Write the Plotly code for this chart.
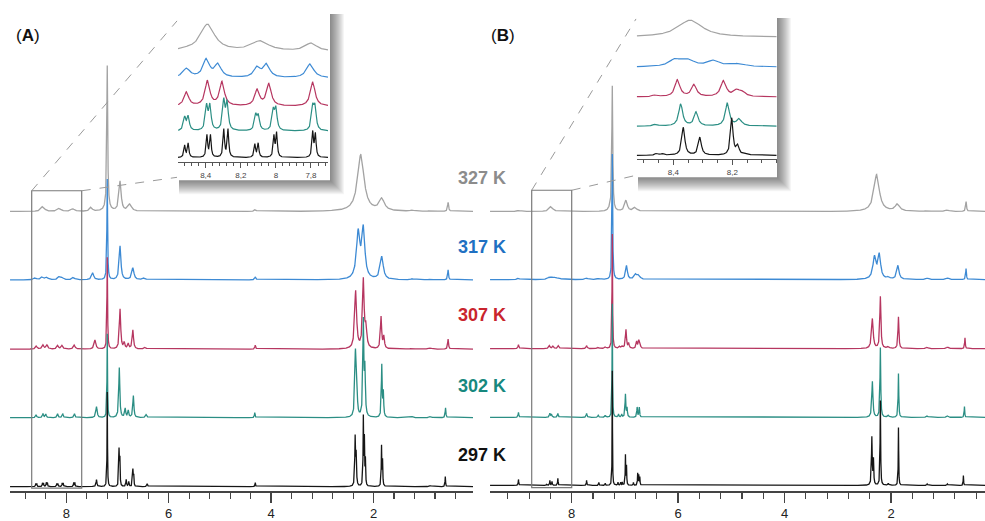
import numpy as np
import plotly.graph_objects as go

W, H = 985, 521
FONT = "Liberation Sans, Arial, sans-serif"

TEMPS = ["327 K", "317 K", "307 K", "302 K", "297 K"]
LINE_COLORS = ["#a3a3a3", "#3d8ad4", "#b63660", "#2b8e84", "#161616"]
LABEL_COLORS = ["#8c8c8c", "#1f70c2", "#c9242d", "#17887e", "#111111"]

MAIN_TICKS = [2, 4, 6, 8]
INSET_A_TICKS = [8.4, 8.2, 8.0, 7.8]
INSET_A_TEXT = ["8,4", "8,2", "8", "7,8"]
INSET_B_TICKS = [8.4, 8.2]
INSET_B_TEXT = ["8,4", "8,2"]

# ---- Panel A peaks: (ppm, height in px, half-width in ppm) ----
A_327 = [(8.46, 5, 0.04), (8.14, 3, 0.04), (7.875, 2.5, 0.04), (7.52, 4, 0.03),
         (7.20, 140, 0.010), (7.20, 6, 0.05), (6.95, 30, 0.025), (6.76, 7, 0.04),
         (4.31, 2, 0.02), (2.25, 57, 0.075), (1.84, 12, 0.06),
         (1.25, 1, 0.04), (0.89, 1, 0.04), (0.545, 9, 0.012)]
A_317 = [(8.61, 2, 0.03), (8.47, 3, 0.03), (8.38, 2.5, 0.03), (8.14, 3, 0.03), (8.08, 2, 0.03),
         (7.86, 2.5, 0.03), (7.485, 7, 0.025), (7.20, 101, 0.008), (6.95, 34, 0.02),
         (6.70, 12, 0.025), (6.48, 2, 0.03), (4.31, 3, 0.015),
         (2.30, 46, 0.04), (2.20, 49, 0.035), (1.84, 23, 0.035),
         (1.25, 1, 0.03), (0.89, 1, 0.03), (0.545, 10, 0.01)]
A_307 = [(8.586, 3, 0.02), (8.455, 4, 0.02), (8.377, 4, 0.02), (8.17, 3.5, 0.02), (8.084, 3.5, 0.02),
         (7.844, 4, 0.02), (7.44, 9, 0.02), (7.20, 92, 0.007), (6.95, 40, 0.015), (6.87, 6, 0.015),
         (6.79, 5, 0.015), (6.70, 19, 0.015), (6.46, 2, 0.02), (4.31, 4, 0.01),
         (2.35, 58, 0.022), (2.20, 68, 0.018), (2.15, 20, 0.02), (1.854, 32, 0.014), (1.80, 12, 0.015),
         (1.25, 1, 0.03), (0.89, 1.2, 0.03), (0.545, 10, 0.01)]
A_302 = [(8.59, 3, 0.012), (8.455, 4, 0.012), (8.40, 3.5, 0.012), (8.17, 4, 0.012), (8.07, 4, 0.012),
         (7.84, 4, 0.012), (7.41, 11, 0.015), (7.20, 84, 0.006), (6.965, 50, 0.012), (6.85, 9, 0.012),
         (6.79, 7, 0.012), (6.69, 22, 0.012), (6.44, 3, 0.015), (4.32, 5, 0.008),
         (2.355, 62, 0.013), (2.33, 35, 0.012), (2.20, 95, 0.011), (2.17, 45, 0.011),
         (1.84, 52, 0.009), (1.81, 24, 0.009), (1.25, 1, 0.02), (0.89, 1.5, 0.02), (0.595, 10, 0.008)]
A_297 = [(8.595, 3, 0.006), (8.575, 3, 0.006), (8.465, 3.5, 0.006), (8.445, 3.5, 0.006),
         (8.39, 4, 0.006), (8.37, 4, 0.006), (8.185, 3, 0.006), (8.165, 3, 0.006),
         (8.08, 3.5, 0.006), (8.06, 3.5, 0.006), (7.855, 4, 0.006), (7.835, 4, 0.006),
         (7.41, 7, 0.01), (7.20, 95, 0.005), (6.97, 35, 0.006), (6.955, 30, 0.006),
         (6.83, 7, 0.008), (6.78, 5, 0.008), (6.70, 16, 0.006), (6.685, 14, 0.006), (6.42, 3, 0.01),
         (4.31, 4, 0.006), (2.36, 48, 0.008), (2.34, 30, 0.008), (2.20, 68, 0.006), (2.18, 45, 0.006),
         (2.16, 25, 0.006), (1.845, 40, 0.006), (1.825, 25, 0.006), (0.89, 1, 0.02), (0.60, 10, 0.006)]

# ---- Panel B peaks ----
B_327 = [(9.0, 1, 0.03), (8.39, 5, 0.04), (7.28, 3, 0.03), (7.237, 125, 0.01), (6.98, 11, 0.03),
         (6.81, 4, 0.04), (2.27, 37, 0.06), (1.88, 7, 0.05), (1.32, 1, 0.04), (0.94, 1.5, 0.04),
         (0.59, 10, 0.01)]
B_317 = [(9.0, 1.5, 0.02), (8.42, 2, 0.04), (8.34, 2, 0.04), (8.25, 1.5, 0.04), (7.72, 1.5, 0.03),
         (7.5, 1, 0.03), (7.237, 126, 0.008), (6.97, 14, 0.02), (6.80, 5, 0.03), (6.74, 4, 0.03),
         (2.31, 22, 0.035), (2.22, 24, 0.03), (2.05, 2, 0.03), (1.87, 14, 0.025),
         (1.32, 1.5, 0.03), (0.94, 1.5, 0.03), (0.59, 11, 0.008)]
B_307 = [(9.0, 4, 0.01), (8.42, 3, 0.015), (8.35, 2.5, 0.015), (8.25, 3, 0.015), (7.72, 3, 0.012),
         (7.5, 1.5, 0.015), (7.37, 1.5, 0.015), (7.237, 115, 0.006), (7.10, 2, 0.015), (7.05, 2, 0.015),
         (6.98, 19, 0.012), (6.93, 5, 0.012), (6.78, 7, 0.012), (6.74, 7, 0.012), (6.72, 5, 0.012),
         (2.35, 30, 0.018), (2.20, 52, 0.012), (2.05, 2, 0.02), (1.86, 32, 0.01),
         (1.32, 1.5, 0.02), (0.94, 1.5, 0.02), (0.61, 11, 0.007)]
B_302 = [(9.0, 5, 0.008), (8.41, 4, 0.01), (8.38, 3, 0.01), (8.26, 4, 0.01), (7.72, 4, 0.01),
         (7.5, 2, 0.01), (7.37, 2, 0.01), (7.237, 114, 0.005), (7.12, 3, 0.008), (7.06, 3, 0.008),
         (6.99, 23, 0.008), (6.96, 9, 0.008), (6.77, 10, 0.008), (6.73, 10, 0.008),
         (2.35, 36, 0.012), (2.20, 70, 0.008), (2.05, 2, 0.015), (1.86, 44, 0.007),
         (1.32, 1.5, 0.015), (0.94, 1.5, 0.015), (0.62, 11, 0.006)]
B_297 = [(9.0, 6, 0.006), (8.47, 1, 0.008), (8.41, 5, 0.006), (8.37, 4, 0.006), (8.26, 7, 0.006),
         (7.72, 5, 0.006), (7.49, 3, 0.006), (7.37, 2, 0.006), (7.237, 115, 0.004), (7.13, 3, 0.006),
         (7.08, 3, 0.006), (7.05, 3, 0.006), (6.99, 30, 0.005), (6.97, 19, 0.005), (6.84, 3, 0.006),
         (6.76, 12, 0.005), (6.74, 10, 0.005), (6.72, 8, 0.005),
         (2.36, 48, 0.008), (2.33, 25, 0.007), (2.20, 85, 0.006), (2.05, 2, 0.01), (1.86, 58, 0.005),
         (1.32, 1.5, 0.01), (0.94, 1.5, 0.01), (0.64, 10, 0.005)]

# ---- Inset A peaks (inset px heights) ----
IA_327 = [(8.52, 1, 0.04), (8.39, 27, 0.05), (8.09, 10, 0.06), (7.80, 8, 0.04)]
IA_317 = [(8.51, 9, 0.025), (8.397, 18, 0.022), (8.33, 13, 0.022), (8.107, 10, 0.022),
          (8.053, 13, 0.022), (7.805, 14, 0.025)]
IA_307 = [(8.51, 14, 0.016), (8.39, 25, 0.016), (8.307, 24, 0.016), (8.107, 16, 0.016),
          (8.04, 22, 0.016), (7.79, 24, 0.016)]
IA_302 = [(8.52, 13, 0.008), (8.50, 14, 0.008), (8.395, 24, 0.008), (8.376, 24, 0.008),
          (8.297, 29, 0.008), (8.278, 27, 0.008), (8.115, 15, 0.008), (8.10, 14, 0.008),
          (8.015, 19, 0.008), (8.00, 21, 0.008), (7.79, 22, 0.008), (7.777, 22, 0.008)]
IA_297 = [(8.52, 12, 0.005), (8.50, 14, 0.005), (8.393, 22, 0.005), (8.373, 22, 0.005),
          (8.297, 28, 0.005), (8.273, 28, 0.005), (8.12, 13, 0.005), (8.101, 14, 0.005),
          (8.011, 21, 0.005), (7.996, 24, 0.005), (7.79, 25, 0.005), (7.775, 23, 0.005)]

# ---- Inset B peaks ----
IB_327 = [(8.343, 17, 0.05)]
IB_317 = [(8.394, 7, 0.025), (8.349, 6, 0.025), (8.264, 6, 0.025), (8.18, 3, 0.03)]
IB_307 = [(8.46, 2, 0.01), (8.386, 17, 0.01), (8.33, 12, 0.01), (8.23, 16, 0.011),
          (8.185, 6, 0.012), (8.165, 4, 0.012)]
IB_302 = [(8.46, 2, 0.008), (8.375, 22, 0.008), (8.323, 14, 0.008), (8.217, 23, 0.008),
          (8.177, 7, 0.01)]
IB_297 = [(8.456, 2, 0.006), (8.437, 1.5, 0.006), (8.366, 28, 0.006), (8.31, 18, 0.006),
          (8.202, 37, 0.005), (8.182, 9, 0.006), (8.15, 1, 0.01)]

PANEL_A = [A_327, A_317, A_307, A_302, A_297]
PANEL_B = [B_327, B_317, B_307, B_302, B_297]
INSET_A = [IA_327, IA_317, IA_307, IA_302, IA_297]
INSET_B = [IB_327, IB_317, IB_307, IB_302, IB_297]

# ---- layout geometry (pixels) ----
A_BASE = [212.3, 281.0, 350.5, 419.3, 488.5]
B_BASE = [212.3, 280.7, 350.0, 419.0, 487.3]
IA_BASE = [51.7, 78.3, 106.7, 131.7, 158.3]
IB_BASE = [37.3, 67.3, 97.3, 126.7, 156.0]
LABEL_Y = [178.3, 247.7, 316.7, 387.7, 456.7]


def spectrum(peaks, grid):
    y = np.zeros_like(grid)
    for c, h, w in peaks:
        y += h / (1.0 + ((grid - c) / w) ** 2)
    return y


def px(x):
    return x / W


def py(y):
    return 1 - y / H


fig = go.Figure()

A_RANGE = [9.099, 0.059]
B_RANGE = [9.535, 0.234]
IA_RANGE = [8.558, 7.703]
IB_RANGE = [8.524, 8.05]

gA = np.arange(A_RANGE[1], A_RANGE[0], 0.001)
gB = np.arange(B_RANGE[1], B_RANGE[0], 0.001)
gIA = np.arange(IA_RANGE[1], IA_RANGE[0], 0.0004)
gIB = np.arange(IB_RANGE[1], IB_RANGE[0], 0.0003)

for i in range(5):
    fig.add_trace(go.Scatter(x=gA, y=(H - A_BASE[i]) + spectrum(PANEL_A[i], gA), mode="lines",
                             line=dict(color=LINE_COLORS[i], width=1.3), xaxis="x", yaxis="y",
                             hoverinfo="skip", showlegend=False))
for i in range(5):
    fig.add_trace(go.Scatter(x=gB, y=(H - B_BASE[i]) + spectrum(PANEL_B[i], gB), mode="lines",
                             line=dict(color=LINE_COLORS[i], width=1.3), xaxis="x2", yaxis="y2",
                             hoverinfo="skip", showlegend=False))
for i in range(5):
    fig.add_trace(go.Scatter(x=gIA, y=(H - IA_BASE[i]) + spectrum(INSET_A[i], gIA), mode="lines",
                             line=dict(color=LINE_COLORS[i], width=1.2), xaxis="x3", yaxis="y3",
                             hoverinfo="skip", showlegend=False))
for i in range(5):
    fig.add_trace(go.Scatter(x=gIB, y=(H - IB_BASE[i]) + spectrum(INSET_B[i], gIB), mode="lines",
                             line=dict(color=LINE_COLORS[i], width=1.2), xaxis="x4", yaxis="y4",
                             hoverinfo="skip", showlegend=False))

main_ax = dict(showgrid=False, zeroline=False, showline=True, linecolor="#444", linewidth=1.5,
               ticks="outside", ticklen=10, tickwidth=1.4, tickcolor="#444",
               tickmode="linear", tick0=0, dtick=2,
               tickfont=dict(family=FONT, size=13, color="#222"),
               minor=dict(ticks="outside", ticklen=6, tickwidth=1.2, tickcolor="#444",
                          tickmode="linear", tick0=0, dtick=0.4, showgrid=False))
y_ax = dict(visible=False, domain=[28 / H, 1], range=[28, H], fixedrange=True)

inset_ax = dict(showgrid=False, zeroline=False, showline=True, linecolor="#555", linewidth=1,
                ticks="outside", ticklen=5, tickwidth=1, tickcolor="#555", tickmode="array",
                tickfont=dict(family=FONT, size=8, color="#444"))

fig.update_layout(
    width=W, height=H, autosize=False,
    margin=dict(l=0, r=0, t=0, b=0),
    paper_bgcolor="white", plot_bgcolor="rgba(0,0,0,0)",
    xaxis=dict(main_ax, domain=[px(10), px(473)], range=A_RANGE, anchor="y"),
    yaxis=dict(y_ax, anchor="x"),
    xaxis2=dict(main_ax, domain=[px(490), 1], range=B_RANGE, anchor="y2"),
    yaxis2=dict(y_ax, anchor="x2"),
    xaxis3=dict(inset_ax, domain=[px(178), px(328)], range=IA_RANGE, anchor="y3",
                tickvals=INSET_A_TICKS, ticktext=INSET_A_TEXT,
                minor=dict(ticks="outside", ticklen=3, tickwidth=1, tickcolor="#555",
                           tickmode="linear", tick0=0, dtick=0.04)),
    yaxis3=dict(visible=False, domain=[py(163), py(15)], range=[H - 163, H - 15], anchor="x3"),
    xaxis4=dict(inset_ax, domain=[px(636.7), px(776.7)], range=IB_RANGE, anchor="y4",
                tickvals=INSET_B_TICKS, ticktext=INSET_B_TEXT,
                minor=dict(ticks="outside", ticklen=3, tickwidth=1, tickcolor="#555",
                           tickmode="linear", tick0=0, dtick=0.05)),
    yaxis4=dict(visible=False, domain=[py(160), py(17)], range=[H - 160, H - 17], anchor="x4"),
)

shapes = []
# inset boxes with soft shadow
for (L, T, R, B) in [(177, 12, 330, 181), (636, 16, 777, 178)]:
    for k in range(1, 15):
        shapes.append(dict(type="rect", xref="paper", yref="paper", layer="below",
                           x0=px(L + 2), x1=px(R + k), y0=py(T + 2), y1=py(B + k),
                           fillcolor="rgba(0,0,0,0.04)", line=dict(width=0)))
    shapes.append(dict(type="rect", xref="paper", yref="paper", layer="below",
                       x0=px(L), x1=px(R), y0=py(T), y1=py(B),
                       fillcolor="white", line=dict(width=0)))

# zoom boxes in main panels
for (L, T, R, B) in [(31.7, 191.5, 81.7, 490.0), (531.7, 191.0, 571.7, 489.5)]:
    shapes.append(dict(type="rect", xref="paper", yref="paper", layer="above",
                       x0=px(L), x1=px(R), y0=py(T), y1=py(B),
                       line=dict(color="#7a7a7a", width=1.2)))

# dashed connectors
for (x0, y0, x1, y1) in [(31.7, 191.5, 177, 21), (81.7, 191.5, 177, 178),
                         (531.7, 191.0, 636, 19), (571.7, 191.0, 636, 176)]:
    shapes.append(dict(type="line", xref="paper", yref="paper", layer="above",
                       x0=px(x0), y0=py(y0), x1=px(x1), y1=py(y1),
                       line=dict(color="#9a9a9a", width=1, dash="dash")))

annotations = [
    dict(text="(<b>A</b>)", x=px(14), y=py(36), xref="paper", yref="paper", xanchor="left",
         yanchor="middle", showarrow=False, font=dict(family=FONT, size=17, color="#111")),
    dict(text="(<b>B</b>)", x=px(489), y=py(36), xref="paper", yref="paper", xanchor="left",
         yanchor="middle", showarrow=False, font=dict(family=FONT, size=17, color="#111")),
]
for i in range(5):
    annotations.append(dict(text="<b>%s</b>" % TEMPS[i], x=px(508), y=py(LABEL_Y[i]),
                            xref="paper", yref="paper", xanchor="right", yanchor="middle",
                            showarrow=False,
                            font=dict(family=FONT, size=18, color=LABEL_COLORS[i])))

fig.update_layout(shapes=shapes, annotations=annotations)
fig.write_html("out.html", config={"displayModeBar": False, "staticPlot": True},
               post_script="document.body.style.margin='0';document.body.style.padding='0';"
                           "document.body.style.overflow='hidden';")
